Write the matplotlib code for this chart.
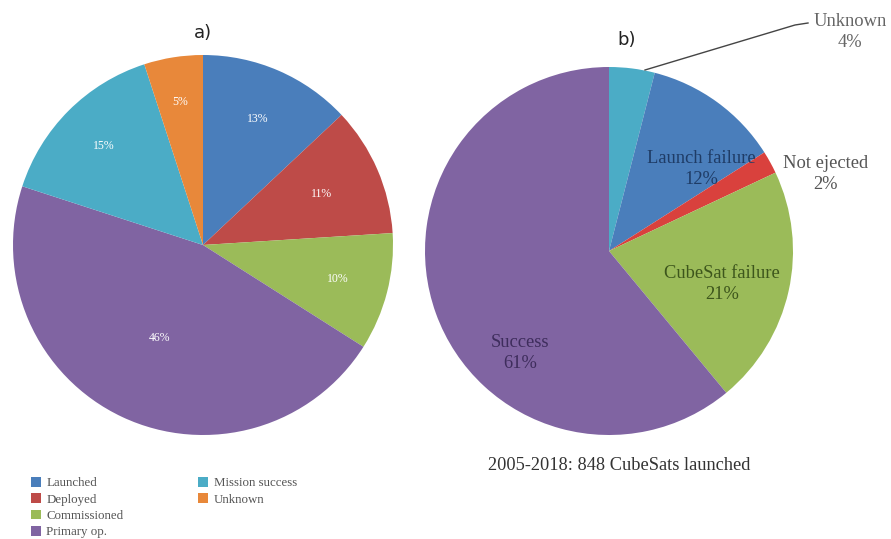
import numpy as np
import matplotlib
matplotlib.use("Agg")
import matplotlib.pyplot as plt
from matplotlib.patches import Patch

# a) CubeSat mission status
status_labels = ["Launched", "Deployed", "Commissioned", "Primary op.", "Mission success", "Unknown"]
status_pct = [13, 11, 10, 46, 15, 5]
status_colors = ["#4a7ebb", "#be4b48", "#9bbb59", "#8064a2", "#4bacc6", "#e8883a"]

# b) launch outcomes 2005-2018
outcome_labels = ["Unknown", "Launch failure", "Not ejected", "CubeSat failure", "Success"]
outcome_pct = [4, 12, 2, 21, 61]
outcome_colors = ["#4bacc6", "#4a7ebb", "#d9413d", "#9bbb59", "#8064a2"]
outcome_text_colors = ["#666666", "#1f3c66", "#555555", "#3d561c", "#3e2d5c"]

W, H = 891, 539
serif = ["Liberation Serif", "DejaVu Serif"]

fig = plt.figure(figsize=(W / 100, H / 100), dpi=100)
ax = fig.add_axes([0, 0, 1, 1])


def py(y):
    # pixel row -> axis y
    return H - y


# ---- pie a ----
ca = (203, py(245))
ra = 190
ax.pie(status_pct, colors=status_colors, startangle=90, counterclock=False,
       center=ca, radius=ra, wedgeprops=dict(linewidth=0), frame=True)
pct_dist = [0.72, 0.68, 0.73, 0.54, 0.74, 0.76]
start = 90.0
for v, d in zip(status_pct, pct_dist):
    mid = np.radians(start - v * 3.6 / 2)
    start -= v * 3.6
    ax.text(ca[0] + d * ra * np.cos(mid), ca[1] + d * ra * np.sin(mid), f"{v}%",
            color="white", fontsize=8.5, family=serif, ha="center", va="center")
ax.text(203, py(33), "a)", fontsize=13, ha="center", va="center", color="#222222")

# ---- pie b ----
cb = (609, py(251))
rb = 184
ax.pie(outcome_pct, colors=outcome_colors, startangle=90, counterclock=False,
       center=cb, radius=rb, wedgeprops=dict(linewidth=0), frame=True)

label_pos = [(850, 32), (701, 169), (826, 174), (722, 284), (520, 353)]
for name, v, c, (x, y) in zip(outcome_labels, outcome_pct, outcome_text_colors, label_pos):
    ax.text(x, py(y), f"{name}\n{v}%", color=c, fontsize=13.3, family=serif,
            ha="center", va="center", linespacing=1.35)

# leader line to the small "Unknown" wedge
ax.plot([645, 795, 808], [py(70), py(25), py(23)], color="#444444", lw=1.0)

ax.text(619, py(466), "2005-2018: 848 CubeSats launched", fontsize=13.2,
        family=serif, color="#333333", ha="center", va="center")
ax.text(627, py(40), "b)", fontsize=13, ha="center", va="center", color="#222222")

# ---- legend for pie a, two columns ----
handles = [Patch(facecolor=c, edgecolor="none") for c in status_colors]
leg_kw = dict(frameon=False, handlelength=0.8, handleheight=0.8, handletextpad=0.4,
              labelspacing=0.3, borderaxespad=0, borderpad=0,
              prop={"family": serif, "size": 9.3}, labelcolor="#555555")
leg1 = ax.legend(handles[:4], status_labels[:4], loc="upper left",
                 bbox_to_anchor=(31 / W, 1 - 477 / H), **leg_kw)
ax.add_artist(leg1)
ax.legend(handles[4:], status_labels[4:], loc="upper left",
          bbox_to_anchor=(198 / W, 1 - 477 / H), **leg_kw)

ax.set_xlim(0, W)
ax.set_ylim(0, H)
ax.set_aspect("equal")
ax.axis("off")

fig.savefig("out.png", dpi=100, facecolor="white")
